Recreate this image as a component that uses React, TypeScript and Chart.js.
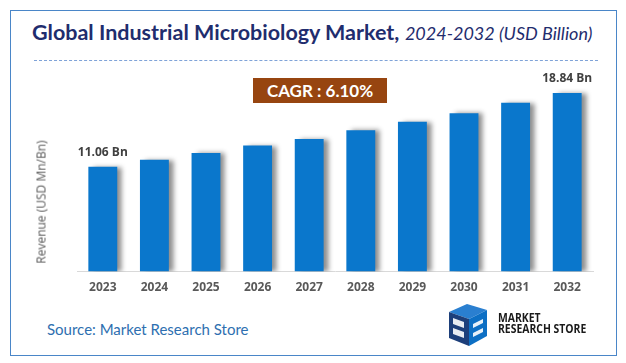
import React, { useEffect, useRef } from "react";
import { Chart, registerables } from "chart.js";

Chart.register(...registerables);

const categories = ["2023", "2024", "2025", "2026", "2027", "2028", "2029", "2030", "2031", "2032"];
const revenue = [11.06, 11.8, 12.5, 13.3, 14.0, 14.9, 15.8, 16.7, 17.8, 18.84];
const valueLabels = ["11.06 Bn", "", "", "", "", "", "", "", "", "18.84 Bn"];
const cagrText = "CAGR : 6.10%";

const shadowPlugin = {
  id: "barShadow",
  beforeDatasetsDraw(chart: any) {
    const ctx = chart.ctx;
    ctx.save();
    ctx.shadowColor = "rgba(0,0,0,0.45)";
    ctx.shadowOffsetX = 5;
    ctx.shadowOffsetY = 0;
    ctx.shadowBlur = 5;
  },
  afterDatasetsDraw(chart: any) {
    chart.ctx.restore();
  },
};

const labelPlugin = {
  id: "valueLabels",
  afterDraw(chart: any) {
    const ctx = chart.ctx;
    const meta = chart.getDatasetMeta(0);
    ctx.save();
    ctx.font = "bold 12px 'Open Sans', sans-serif";
    ctx.fillStyle = "#404040";
    ctx.textAlign = "center";
    ctx.textBaseline = "middle";
    meta.data.forEach((bar: any, i: number) => {
      const t = valueLabels[i];
      if (t) ctx.fillText(t, bar.x, bar.y - 14);
    });
    ctx.restore();
  },
};

export default function App() {
  const ref = useRef<HTMLCanvasElement>(null);
  useEffect(() => {
    document.body.style.margin = "0";
    const chart = new Chart(ref.current!, {
      type: "bar",
      data: {
        labels: categories,
        datasets: [
          {
            data: revenue,
            backgroundColor: "#0a77cc",
            barPercentage: 0.56,
            categoryPercentage: 1,
          },
        ],
      },
      options: {
        animation: false,
        responsive: false,
        maintainAspectRatio: false,
        layout: { padding: { left: 77, right: 33, top: 22, bottom: 6 } },
        plugins: { legend: { display: false }, tooltip: { enabled: false } },
        scales: {
          y: { display: false, min: 0, max: 20 },
          x: {
            grid: { display: false, drawTicks: false },
            border: { display: true, color: "#d9d9d9", width: 1 },
            ticks: {
              padding: 9,
              color: "#595959",
              font: { family: "'Open Sans', sans-serif", size: 12, weight: "bold" },
            },
          },
        },
      },
      plugins: [shadowPlugin, labelPlugin],
    });
    return () => chart.destroy();
  }, []);

  return (
    <div style={{ position: "absolute", left: 0, top: 0, width: 626, height: 363, background: "#fff", overflow: "hidden" }}>
      <div style={{ position: "absolute", left: 10, top: 10, width: 605, height: 344, border: "1.5px solid #4a86c8" }} />
      <div
        style={{
          position: "absolute",
          left: 32,
          top: 18,
          whiteSpace: "nowrap",
          fontFamily: "Lato, sans-serif",
          fontSize: 21.5,
          color: "#1f2d6e",
          lineHeight: "28px",
        }}
      >
        <span style={{ fontWeight: "bold" }}>Global Industrial Microbiology Market,</span>{" "}
        <span style={{ fontStyle: "italic", fontSize: 18 }}>2024-2032 (USD Billion)</span>
      </div>
      <div style={{ position: "absolute", left: 34, top: 60, width: 564, borderTop: "1px dashed #7fa3d8" }} />
      <canvas ref={ref} width={626} height={250} style={{ position: "absolute", left: 0, top: 60 }} />
      <div
        style={{
          position: "absolute",
          left: 253,
          top: 78,
          width: 134,
          height: 25,
          background: "#974510",
          color: "#fff",
          fontFamily: "Lato, sans-serif",
          fontWeight: "bold",
          fontSize: 17,
          lineHeight: "25px",
          textAlign: "center",
        }}
      >
        {cagrText}
      </div>
      <div
        style={{
          position: "absolute",
          left: 41,
          top: 202,
          transform: "translate(-50%, -50%) rotate(-90deg)",
          whiteSpace: "nowrap",
          fontFamily: "'Open Sans', sans-serif",
          fontSize: 12,
          color: "#595959",
        }}
      >
        Revenue (USD Mn/Bn)
      </div>
      <div
        style={{
          position: "absolute",
          left: 47,
          top: 320,
          fontFamily: "Lato, sans-serif",
          fontSize: 15,
          color: "#2e6fb0",
          whiteSpace: "nowrap",
        }}
      >
        Source: Market Research Store
      </div>
      <svg style={{ position: "absolute", left: 445, top: 302 }} width={50} height={46} viewBox="0 0 50 46">
        <polygon points="4,10 22,2 42,8 24,17" fill="#2a7fd0" />
        <polygon points="4,10 24,17 24,44 4,36" fill="#1d3f7a" />
        <polygon points="24,17 42,8 42,34 24,44" fill="#0d6fc4" />
        <path d="M8,16 L19,20 L19,26 L8,22 Z" fill="#ffffff" opacity="0.9" />
        <path d="M8,26 L19,30 L19,36 L8,32 Z" fill="#ffffff" opacity="0.9" />
        <path d="M28,22 L38,17 L38,21 L28,26 Z" fill="#ffffff" opacity="0.9" />
        <path d="M28,31 L38,26 L38,30 L28,35 Z" fill="#ffffff" opacity="0.9" />
      </svg>
      <div
        style={{
          position: "absolute",
          left: 498,
          top: 312,
          fontFamily: "'Open Sans', sans-serif",
          fontWeight: "bold",
          fontSize: 13,
          lineHeight: "11px",
          color: "#1a1a1a",
          whiteSpace: "nowrap",
          transform: "scaleX(0.8)",
          transformOrigin: "left top",
        }}
      >
        MARKET
        <br />
        RESEARCH STORE
      </div>
    </div>
  );
}
